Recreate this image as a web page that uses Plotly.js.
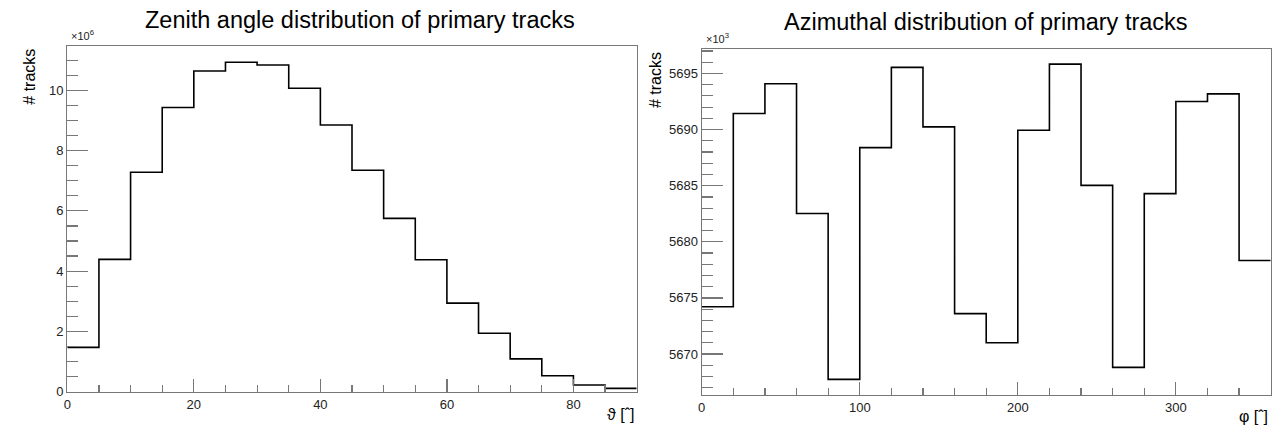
<!DOCTYPE html>
<html>
<head>
<meta charset="utf-8">
<script src="https://cdn.plot.ly/plotly-3.0.1.min.js"></script>
<style>html,body{margin:0;padding:0;background:#fff;}#chart{width:1276px;height:432px;}</style>
</head>
<body>
<div id="chart"></div>
<script>
// Zenith angle histogram (bin edges in degrees, counts in units of 1e6)
const zenithEdges = [0,5,10,15,20,25,30,35,40,45,50,55,60,65,70,75,80,85,90];
const zenithCounts = [1.47,4.39,7.28,9.43,10.64,10.93,10.84,10.07,8.85,7.35,5.75,4.38,2.94,1.94,1.09,0.53,0.22,0.11];
// Azimuthal histogram (bin edges in degrees, counts in units of 1e3)
const phiEdges = [0,20,40,60,80,100,120,140,160,180,200,220,240,260,280,300,320,340,360];
const phiCounts = [5674.21,5691.43,5694.08,5682.52,5667.74,5688.39,5695.54,5690.24,5673.60,5671.00,5689.94,5695.83,5685.03,5668.81,5684.29,5692.50,5693.18,5678.33];

const titles = ["Zenith angle distribution of primary tracks", "Azimuthal distribution of primary tracks"];
const xTitles = ["\u03D1 [\u02C6]", "\u03C6 [\u02C6]"];
const yTitle = "# tracks";
const multipliers = ["\u00D710<sup>6</sup>", "\u00D710<sup>3</sup>"];

const W = 1276, H = 432;
const px = v => v / W;
const py = v => (H - v) / H;

function stepTrace(edges, counts, xa, ya) {
  return {
    x: edges,
    y: counts.concat([counts[counts.length - 1]]),
    xaxis: xa, yaxis: ya,
    type: 'scatter', mode: 'lines',
    line: {shape: 'hv', color: '#000', width: 1.6},
    hoverinfo: 'x+y', showlegend: false
  };
}

const FONT = '"Liberation Sans", Arial, Helvetica, sans-serif';
const axisCommon = {
  showgrid: false, zeroline: false, showline: true, linecolor: '#777', linewidth: 1.2,
  mirror: true, ticks: 'inside', tickcolor: '#777', tickwidth: 1.2,
  tickfont: {family: FONT, size: 13, color: '#222'}, fixedrange: true
};

const layout = {
  width: W, height: H,
  margin: {l: 0, r: 0, t: 0, b: 0},
  paper_bgcolor: '#fff', plot_bgcolor: '#fff',
  font: {family: FONT},
  showlegend: false,
  xaxis: Object.assign({}, axisCommon, {
    domain: [px(67.3), px(636.7)], range: [0, 90], anchor: 'y',
    tick0: 0, dtick: 20, ticklen: 13,
    minor: {ticks: 'inside', dtick: 5, ticklen: 7, tickcolor: '#777', tickwidth: 1.2, showgrid: false}
  }),
  yaxis: Object.assign({}, axisCommon, {
    domain: [py(391.7), py(45.7)], range: [0, 11.48], anchor: 'x',
    tick0: 0, dtick: 2, ticklen: 21,
    minor: {ticks: 'inside', dtick: 0.5, ticklen: 11, tickcolor: '#777', tickwidth: 1.2, showgrid: false}
  }),
  xaxis2: Object.assign({}, axisCommon, {
    domain: [px(701.7), px(1270.7)], range: [0, 360], anchor: 'y2',
    tick0: 0, dtick: 100, ticklen: 13,
    minor: {ticks: 'inside', dtick: 20, ticklen: 7, tickcolor: '#777', tickwidth: 1.2, showgrid: false}
  }),
  yaxis2: Object.assign({}, axisCommon, {
    domain: [py(395), py(49.3)], range: [5666.35, 5697.15], anchor: 'x2',
    tick0: 5670, dtick: 5, ticklen: 21,
    minor: {ticks: 'inside', dtick: 1, ticklen: 11, tickcolor: '#777', tickwidth: 1.2, showgrid: false}
  }),
  annotations: [
    {text: titles[0], xref: 'paper', yref: 'paper', x: px(360), y: py(20), xanchor: 'center', yanchor: 'middle',
     showarrow: false, font: {family: FONT, size: 23.5, color: '#000'}},
    {text: titles[1], xref: 'paper', yref: 'paper', x: px(986), y: py(22), xanchor: 'center', yanchor: 'middle',
     showarrow: false, font: {family: FONT, size: 23.5, color: '#000'}},
    {text: yTitle, xref: 'paper', yref: 'paper', x: px(30), y: py(76.7), xanchor: 'center', yanchor: 'middle',
     textangle: -90, showarrow: false, font: {family: FONT, size: 16, color: '#000'}},
    {text: yTitle, xref: 'paper', yref: 'paper', x: px(655), y: py(80), xanchor: 'center', yanchor: 'middle',
     textangle: -90, showarrow: false, font: {family: FONT, size: 16, color: '#000'}},
    {text: xTitles[0], xref: 'paper', yref: 'paper', x: px(636), y: py(414), xanchor: 'right', yanchor: 'middle',
     showarrow: false, font: {family: FONT, size: 16, color: '#000'}},
    {text: xTitles[1], xref: 'paper', yref: 'paper', x: px(1270), y: py(416), xanchor: 'right', yanchor: 'middle',
     showarrow: false, font: {family: FONT, size: 16, color: '#000'}},
    {text: multipliers[0], xref: 'paper', yref: 'paper', x: px(69), y: py(35), xanchor: 'left', yanchor: 'middle',
     showarrow: false, font: {family: FONT, size: 11, color: '#222'}},
    {text: multipliers[1], xref: 'paper', yref: 'paper', x: px(704), y: py(38), xanchor: 'left', yanchor: 'middle',
     showarrow: false, font: {family: FONT, size: 11, color: '#222'}}
  ]
};

Plotly.newPlot('chart', [
  stepTrace(zenithEdges, zenithCounts, 'x', 'y'),
  stepTrace(phiEdges, phiCounts, 'x2', 'y2')
], layout, {displayModeBar: false, staticPlot: true});
</script>
</body>
</html>
